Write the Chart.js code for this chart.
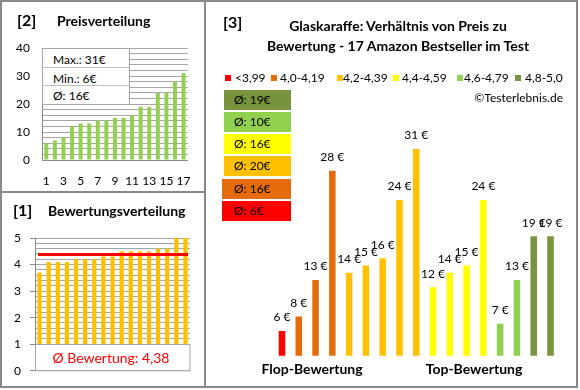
<!DOCTYPE html>
<html lang="de"><head><meta charset="utf-8">
<script src="https://cdn.jsdelivr.net/npm/chart.js@4.4.1/dist/chart.umd.min.js"></script>
<style>
html,body{margin:0;padding:0;background:#fff;}
#wrap{position:relative;width:580px;height:390px;overflow:hidden;font-family:Lato,"Open Sans",sans-serif;color:#000;}
canvas{position:absolute;}
.ln{position:absolute;background:#898989;z-index:5;}
.txt{position:absolute;white-space:nowrap;line-height:1;z-index:4;}
.b{font-weight:bold;}
.vc{transform:translateY(-50%);}
.hc{transform:translate(-50%,-50%);}
#statbox{position:absolute;left:42px;top:48px;width:88px;height:57px;box-sizing:border-box;border:1px solid #a6a6a6;background:#fff;z-index:3;}
#statbox div{position:absolute;left:0;width:100%;box-sizing:border-box;font-size:12px;line-height:1;padding-left:10px;}
.sep{position:absolute;left:0;width:100%;height:1px;background:#bfbfbf;}
.avg{position:absolute;height:20px;font-size:12px;line-height:20px;box-sizing:border-box;padding-left:11px;z-index:4;}
.sq{position:absolute;width:6px;height:6px;z-index:4;}
</style></head><body>
<div id="wrap">
  <canvas id="cv1" width="205" height="195" style="left:0;top:192px;"></canvas>
  <canvas id="cv3" width="372" height="387" style="left:205px;top:0;"></canvas>
  <canvas id="cv2" width="205" height="192" style="left:0;top:0;"></canvas>

  <div class="txt b vc" style="left:17px;top:20px;font-size:16px;">[2]</div>
  <div class="txt b vc" style="left:57px;top:21px;font-size:14px;">Preisverteilung</div>
  <div class="txt b vc" style="left:13px;top:210px;font-size:16px;">[1]</div>
  <div class="txt b vc" style="left:48px;top:211px;font-size:14px;">Bewertungsverteilung</div>
  <div class="txt b vc" style="left:223px;top:22px;font-size:16px;">[3]</div>
  <div class="txt b hc" style="left:398px;top:26px;font-size:14px;">Glaskaraffe: Verhältnis von Preis zu</div>
  <div class="txt b hc" style="left:398px;top:46px;font-size:14px;">Bewertung - 17 Amazon Bestseller im Test</div>
  <div class="txt vc" style="right:17px;top:98px;font-size:12px;">©Testerlebnis.de</div>
  <div class="txt b hc" style="left:312px;top:369px;font-size:14px;">Flop-Bewertung</div>
  <div class="txt b hc" style="left:474px;top:369px;font-size:14px;">Top-Bewertung</div>

  <div id="statbox"></div>
  <div id="legendrow"></div>
  <div id="avgrow"></div>

  <div class="ln" style="left:0;top:0;width:578px;height:2px;"></div>
  <div class="ln" style="left:0;top:386px;width:578px;height:2px;"></div>
  <div class="ln" style="left:0;top:0;width:2px;height:388px;"></div>
  <div class="ln" style="left:576px;top:0;width:2px;height:388px;"></div>
  <div class="ln" style="left:204px;top:0;width:2px;height:388px;"></div>
  <div class="ln" style="left:0;top:191px;width:205px;height:2px;"></div>
</div>
<script>
// ---- data ----
const preise = [6, 8, 13, 28, 14, 15, 16, 24, 31, 12, 14, 15, 24, 7, 13, 19, 19];
const produktGruppe = [0, 1, 1, 1, 2, 2, 2, 2, 2, 3, 3, 3, 3, 4, 4, 5, 5];
const gruppenLabels = ['<3,99', '4,0-4,19', '4,2-4,39', '4,4-4,59', '4,6-4,79', '4,8-5,0'];
const gruppenFarben = ['#FF0000', '#E46C0A', '#FFC000', '#FFFF00', '#92D050', '#77933C'];
const gruppenSchnitt = [6, 16, 20, 16, 10, 19];
const preisSortiert = [6, 7, 8, 12, 13, 13, 14, 14, 15, 15, 16, 19, 19, 24, 24, 28, 31];
const bewertungSortiert = [3.7, 4.1, 4.1, 4.1, 4.2, 4.2, 4.2, 4.3, 4.3, 4.5, 4.5, 4.5, 4.5, 4.6, 4.6, 5.0, 5.0];
const positionen = ['1','2','3','4','5','6','7','8','9','10','11','12','13','14','15','16','17'];
const preisAchsenLabels = [0, 10, 20, 30, 40];

const FONT = 'Lato';
const GRID = '#a6a6a6';
const AXIS = '#898989';

// ---- stats box (chart 2) ----
const pMax = Math.max(...preisSortiert), pMin = Math.min(...preisSortiert);
const pAvg = Math.round(preisSortiert.reduce((a,b)=>a+b,0)/preisSortiert.length);
document.getElementById('statbox').innerHTML =
  '<div style="top:11px;transform:translateY(-50%)">Max.: '+pMax+'€</div>' +
  '<div class="sep" style="top:18px"></div>' +
  '<div style="top:30px;transform:translateY(-50%)">Min.: '+pMin+'€</div>' +
  '<div class="sep" style="top:36px"></div>' +
  '<div style="top:47px;transform:translateY(-50%)">Ø: '+pAvg+'€</div>';

// ---- legend (chart 3) ----
const legX = [[225,235],[271,280],[337,343],[393,402],[457,464],[515,525]];
let lh = '';
gruppenLabels.forEach((l,i)=>{
  lh += '<div class="sq" style="left:'+legX[i][0]+'px;top:75px;background:'+gruppenFarben[i]+'"></div>';
  lh += '<div class="txt vc" style="left:'+legX[i][1]+'px;top:78px;font-size:12px;">'+l+'</div>';
});
document.getElementById('legendrow').innerHTML = lh;

// ---- group averages ----
const avgBoxes = [[224,90],[224,112],[224,134],[224,156],[222,179],[222,201]];
let ah = '';
for (let k = 0; k < 6; k++) {
  const g = 5 - k;
  const [bx,by] = avgBoxes[k];
  ah += '<div class="avg" style="left:'+bx+'px;top:'+by+'px;width:'+(291-bx)+'px;background:'+gruppenFarben[g]+';padding-left:'+(234-bx)+'px">Ø: '+gruppenSchnitt[g]+'€</div>';
}
document.getElementById('avgrow').innerHTML = ah;

// ---- chart 1: Bewertungsverteilung ----
const bMean = bewertungSortiert.reduce((a,b)=>a+b,0)/bewertungSortiert.length;
const isInt = v => Math.abs(v - Math.round(v)) < 1e-6;
const bewPlugin = {
  id: 'bew',
  afterDatasetsDraw(chart) {
    const ctx = chart.ctx, ca = chart.chartArea, ys = chart.scales.y;
    ctx.save();
    const ym = ys.getPixelForValue(bMean);
    ctx.strokeStyle = '#FF0000'; ctx.lineWidth = 3;
    ctx.beginPath(); ctx.moveTo(ca.left + 3, ym); ctx.lineTo(ca.right - 2, ym); ctx.stroke();
    const y1 = ys.getPixelForValue(1), y0 = ys.getPixelForValue(0);
    ctx.fillStyle = '#fff';
    ctx.fillRect(ca.left + 0.5, y1, ca.right - ca.left, y0 - y1 - 0.5);
    ctx.strokeStyle = GRID; ctx.lineWidth = 1;
    ctx.strokeRect(ca.left + 0.5, Math.round(y1) + 0.5, ca.right - ca.left - 0.5, y0 - Math.round(y1) - 0.5);
    ctx.fillStyle = '#FF0000';
    ctx.font = '14px ' + FONT;
    ctx.textAlign = 'center'; ctx.textBaseline = 'middle';
    ctx.fillText('Ø Bewertung: ' + bMean.toFixed(2).replace('.', ','), 111, (y1 + y0) / 2 + 1);
    ctx.restore();
  }
};
new Chart(document.getElementById('cv1'), {
  type: 'bar',
  data: { labels: positionen.slice(), datasets: [{ data: bewertungSortiert, backgroundColor: '#FFC000', barPercentage: 0.47, categoryPercentage: 1 }] },
  options: {
    responsive: false, animation: false,
    layout: { padding: { top: 46, right: 15, left: 0, bottom: 14 } },
    plugins: { legend: { display: false }, tooltip: { enabled: false } },
    scales: {
      x: { display: false },
      y: {
        min: 0, max: 5,
        grid: { color: GRID, tickLength: 5, tickColor: c => isInt(c.tick.value) ? AXIS : 'rgba(0,0,0,0)' },
        border: { color: AXIS, width: 1 },
        ticks: { autoSkip: false, stepSize: 0.2, padding: 9, color: '#000', font: { family: FONT, size: 12 },
          callback: v => isInt(v) ? Math.round(v) : '' },
        afterFit: s => { s.width = 35; }
      }
    }
  },
  plugins: [bewPlugin]
});

// ---- chart 3: Preis zu Bewertung ----
const valPlugin = {
  id: 'vals',
  afterDatasetsDraw(chart) {
    const ctx = chart.ctx, meta = chart.getDatasetMeta(0);
    ctx.save();
    ctx.font = '12px ' + FONT; ctx.fillStyle = '#000';
    ctx.textAlign = 'center'; ctx.textBaseline = 'middle';
    meta.data.forEach((el, i) => ctx.fillText(preise[i] + ' €', el.x, el.y - 13.5));
    ctx.restore();
  }
};
new Chart(document.getElementById('cv3'), {
  type: 'bar',
  data: { labels: positionen.slice(), datasets: [{ data: preise, backgroundColor: produktGruppe.map(g => gruppenFarben[g]), barPercentage: 0.39, categoryPercentage: 1 }] },
  options: {
    responsive: false, animation: false,
    layout: { padding: { top: 83.4, right: 18.1, left: 68.6, bottom: 31.3 } },
    plugins: { legend: { display: false }, tooltip: { enabled: false } },
    scales: {
      x: { display: false },
      y: { display: false, min: 2.6, max: 40 }
    }
  },
  plugins: [valPlugin]
});

// ---- chart 2: Preisverteilung ----
// y labels are drawn at the scale's own tick pixels after the chart is drawn
const preisAchsePlugin = {
  id: 'preisAchse',
  afterDraw(chart) {
    const s = chart.scales.y, ctx = chart.ctx;
    ctx.save();
    ctx.font = '12px ' + FONT; ctx.fillStyle = '#000';
    ctx.textAlign = 'right'; ctx.textBaseline = 'middle';
    s.ticks.forEach((t, i) => {
      if (preisAchsenLabels.includes(t.value)) ctx.fillText(String(t.value), s.right - 12, s.getPixelForTick(i) + 0.5);
    });
    ctx.restore();
  }
};
new Chart(document.getElementById('cv2'), {
  type: 'bar',
  data: { labels: positionen.slice(), datasets: [{ data: preisSortiert, backgroundColor: '#92D050', barPercentage: 0.46, categoryPercentage: 1 }] },
  options: {
    responsive: false, animation: false,
    layout: { padding: { top: 48, right: 16, left: 0, bottom: 0 } },
    plugins: { legend: { display: false }, tooltip: { enabled: false } },
    scales: {
      x: {
        grid: { display: false, drawTicks: false },
        border: { color: AXIS, width: 1 },
        ticks: { autoSkip: false, maxRotation: 0, padding: 14, color: '#000', font: { family: FONT, size: 12 },
          callback: (v, i) => i % 2 === 0 ? positionen[i] : '' },
        afterFit: s => { s.height = 32; }
      },
      y: {
        min: 0, max: 40,
        grid: { color: GRID, drawTicks: false },
        border: { color: AXIS, width: 1 },
        ticks: { autoSkip: false, stepSize: 2, padding: 12, color: 'rgba(0,0,0,0)', font: { family: FONT, size: 12 },
          callback: v => preisAchsenLabels.includes(v) ? String(v) : '' },
        afterFit: s => { s.width = 42; }
      }
    }
  },
  plugins: [preisAchsePlugin]
});
</script>
</body></html>
